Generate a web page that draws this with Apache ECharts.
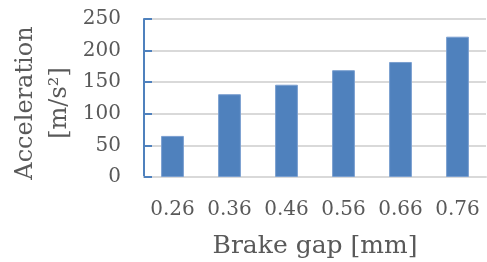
<!DOCTYPE html>
<html>
<head>
<meta charset="utf-8">
<script src="https://cdn.jsdelivr.net/npm/echarts@6/dist/echarts.min.js"></script>
<style>
  html, body { margin: 0; padding: 0; background: #fff; }
  #main { width: 487px; height: 262px; }
</style>
</head>
<body>
<div id="main"></div>
<script>
// brake gap categories and measured acceleration
const gaps = ["0.26", "0.36", "0.46", "0.56", "0.66", "0.76"];
const accel = [65, 131, 146, 169, 182, 222];
const yTicks = [0, 50, 100, 150, 200, 250];

const textColor = "#595959";
const font = "DejaVu Serif";

let chart = echarts.init(document.getElementById("main"));
chart.setOption({
  animation: false,
  grid: { left: 144, right: 1, top: 19, bottom: 85, containLabel: false, outerBoundsMode: "none" },
  xAxis: {
    type: "category",
    data: gaps,
    name: "Brake gap [mm]",
    nameLocation: "middle",
    nameGap: 57,
    nameTextStyle: { color: textColor, fontFamily: font, fontSize: 25 },
    axisLine: { lineStyle: { color: "#d9d9d9", width: 2 } },
    axisTick: { show: false },
    axisLabel: { color: textColor, fontFamily: font, fontSize: 20, margin: 23, interval: 0, hideOverlap: false },
  },
  yAxis: {
    type: "value",
    min: yTicks[0],
    max: yTicks[yTicks.length - 1],
    interval: 50,
    axisLine: { show: true, lineStyle: { color: "#4f81bd", width: 2 } },
    axisTick: { show: true, inside: true, length: 8, lineStyle: { color: "#4f81bd", width: 2 } },
    axisLabel: { color: textColor, fontFamily: font, fontSize: 20, margin: 23 },
    splitLine: { lineStyle: { color: "#d9d9d9", width: 2 } },
  },
  graphic: [
    {
      type: "text",
      x: 43,
      y: 103,
      rotation: Math.PI / 2,
      style: {
        text: "Acceleration\n[m/s²]",
        fill: textColor,
        font: "24px 'DejaVu Serif'",
        align: "center",
        verticalAlign: "middle",
        lineHeight: 34,
      },
    },
  ],
  series: [
    {
      type: "bar",
      data: accel,
      barCategoryGap: "60%",
      itemStyle: { color: "#4f81bd", borderColor: "#7a9fd0", borderWidth: 1 },
    },
  ],
});
</script>
</body>
</html>
